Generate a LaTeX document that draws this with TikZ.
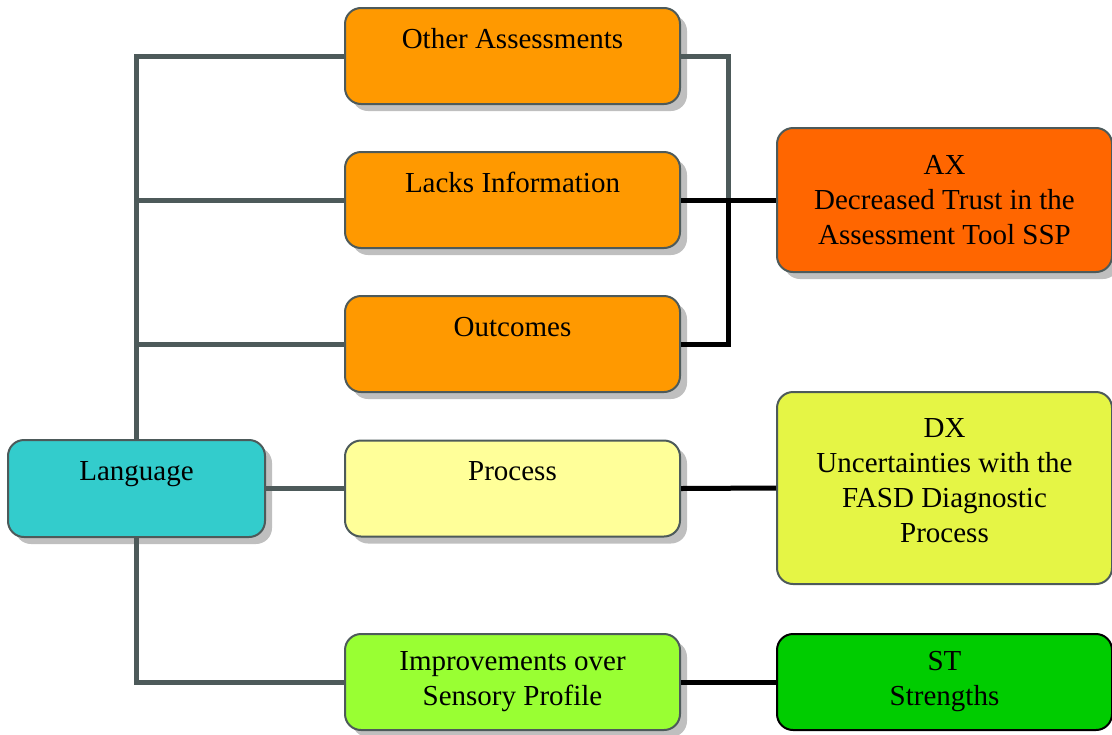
\documentclass[tikz,border=0pt]{standalone}
\usepackage{fontspec}
\setmainfont{Liberation Serif}
\usepackage{tikz}
\usetikzlibrary{positioning,calc}
\usetikzlibrary{shadows}

\definecolor{linegray}{HTML}{4D5A5A}
\definecolor{langcyan}{HTML}{33CCCC}
\definecolor{boxorange}{HTML}{FF9900}
\definecolor{axorange}{HTML}{FF6600}
\definecolor{procyellow}{HTML}{FFFF99}
\definecolor{dxyellow}{HTML}{E5F545}
\definecolor{imprgreen}{HTML}{99FF33}
\definecolor{stgreen}{HTML}{00CC00}

\tikzset{
    box/.style={draw=linegray, line width=1pt, rounded corners=8pt, align=center,
        font=\fontsize{14.5}{17.5}\selectfont, text=black, inner sep=2pt},
    shadowed/.style={drop shadow={shadow xshift=3.5pt, shadow yshift=-3.5pt, fill=black!25, opacity=1}},
    midbox/.style={box, shadowed, minimum width=167.5pt, minimum height=48pt},
    rightbox/.style={box, minimum width=167.5pt},
    greyline/.style={draw=linegray, line width=2.5pt},
    blackline/.style={draw=black, line width=2.5pt}
}

\begin{document}
\begin{tikzpicture}[x=0.5pt, y=-0.5pt]
    \useasboundingbox (0,0) rectangle (1112,734);

    % Left box
    \node[box, shadowed, fill=langcyan, minimum width=128.5pt, minimum height=48.5pt] (lang) at (136.5,488.5) {Language\\\mbox{}};

    % Middle column
    \node[midbox, fill=boxorange] (other) at (512.5,56) {Other Assessments\\\mbox{}};
    \node[midbox, fill=boxorange] (lacks) at (512.5,200) {Lacks Information\\\mbox{}};
    \node[midbox, fill=boxorange] (outcomes) at (512.5,344) {Outcomes\\\mbox{}};
    \node[midbox, fill=procyellow] (process) at (512.5,488.5) {Process\\\mbox{}};
    \node[midbox, fill=imprgreen] (improve) at (512.5,682) {Improvements over\\Sensory Profile};

    % Right column
    \node[rightbox, shadowed, fill=axorange, minimum height=72pt] (ax) at (944.5,200) {AX\\Decreased Trust in the\\Assessment Tool SSP};
    \node[rightbox, fill=dxyellow, minimum height=96pt] (dx) at (944.5,488) {DX\\Uncertainties with the\\FASD Diagnostic\\Process\\[-10pt]\mbox{}};
    \node[rightbox, draw=black, fill=stgreen, minimum height=48pt] (st) at (944.5,682) {ST\\Strengths};

    % Tree from Language
    \draw[greyline] (lang.north) |- (other.west);
    \draw[greyline] (lang.north |- lacks.west) -- (lacks.west);
    \draw[greyline] (lang.north |- outcomes.west) -- (outcomes.west);
    \draw[greyline] (lang.east) -- (process.west);
    \draw[greyline] (lang.south) |- (improve.west);

    % Joins on the right
    \coordinate (join) at (728,200);
    \draw[greyline] (other.east) -| (join);
    \draw[blackline] (outcomes.east) -| (join);
    \draw[blackline] (lacks.east) -- (ax.west);
    \draw[blackline] (process.east) -- (dx.west);
    \draw[blackline] (improve.east) -- (st.west);

\end{tikzpicture}
\end{document}
